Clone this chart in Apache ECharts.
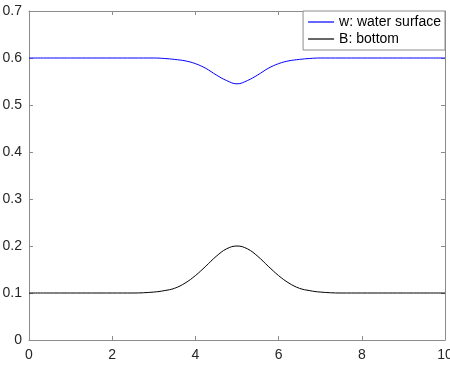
<!DOCTYPE html>
<html>
<head>
<meta charset="utf-8">
<script src="https://cdn.jsdelivr.net/npm/echarts@6/dist/echarts.min.js"></script>
<style>html,body{margin:0;padding:0;background:#fff}#c{width:450px;height:372px}</style>
</head>
<body>
<div id="c"></div>
<script>
const xs = [0, 1, 2, 2.5, 3, 3.25, 3.5, 3.75, 4, 4.25, 4.5, 4.75, 5, 5.25, 5.5, 5.75, 6, 6.25, 6.5, 6.75, 7, 7.5, 8, 9, 10];
const waterSurface = [0.6, 0.6, 0.6, 0.6, 0.6, 0.599, 0.597, 0.594, 0.588, 0.578, 0.564, 0.552, 0.545, 0.552, 0.564, 0.578, 0.588, 0.594, 0.597, 0.599, 0.6, 0.6, 0.6, 0.6, 0.6];
const bottom = [0.1, 0.1, 0.1, 0.1, 0.102, 0.105, 0.11, 0.121, 0.137, 0.157, 0.178, 0.194, 0.2, 0.194, 0.178, 0.157, 0.137, 0.121, 0.11, 0.105, 0.102, 0.1, 0.1, 0.1, 0.1];
const xTicks = [0, 2, 4, 6, 8, 10];
const yTicks = [0, 0.1, 0.2, 0.3, 0.4, 0.5, 0.6, 0.7];
const seriesNames = ['w: water surface', 'B: bottom'];
const seriesColors = ['#0000ff', '#000000'];

const font = 'Liberation Sans, Arial, Helvetica, sans-serif';
const frame = {show: true, onZero: false, lineStyle: {color: '#8c8c8c', width: 1}};
const tickIn = {show: true, inside: true, length: 4, lineStyle: {color: '#8c8c8c'}};
const chart = echarts.init(document.getElementById('c'), null, {renderer: 'canvas'});
chart.setOption({
  animation: false,
  backgroundColor: '#fff',
  grid: {left: 29, right: 5, top: 11, bottom: 32, containLabel: false, outerBoundsMode: 'none'},
  xAxis: [
    {type: 'value', position: 'bottom', min: 0, max: 10, interval: 2, axisLine: frame, axisTick: tickIn,
     splitLine: {show: false},
     axisLabel: {color: '#262626', fontSize: 14, fontFamily: font, margin: 8,
       formatter: v => xTicks.includes(v) ? String(v) : ''}},
    {type: 'value', position: 'top', min: 0, max: 10, interval: 2, axisLine: frame, axisTick: tickIn,
     splitLine: {show: false}, axisLabel: {show: false}}
  ],
  yAxis: [
    {type: 'value', position: 'left', min: 0, max: 0.7, interval: 0.1, axisLine: frame, axisTick: tickIn,
     splitLine: {show: false},
     axisLabel: {color: '#262626', fontSize: 14, fontFamily: font, margin: 7,
       formatter: v => { const t = yTicks.find(y => Math.abs(y - v) < 1e-9); return t === undefined ? '' : String(Math.round(t * 10) / 10); }}},
    {type: 'value', position: 'right', min: 0, max: 0.7, interval: 0.1, axisLine: frame, axisTick: tickIn,
     splitLine: {show: false}, axisLabel: {show: false}}
  ],
  legend: {
    show: true, right: 5, top: 11, orient: 'vertical', itemGap: 3,
    backgroundColor: '#fff', borderColor: '#8c8c8c', borderWidth: 1, borderRadius: 0,
    padding: [4, 4, 4, 5], itemWidth: 26, itemHeight: 1.2, icon: 'rect',
    textStyle: {color: '#000', fontSize: 14, fontFamily: font},
    data: seriesNames.map((n, i) => ({name: n, icon: 'rect', itemStyle: {color: seriesColors[i], borderWidth: 0}}))
  },
  series: [
    {name: seriesNames[0], type: 'line', data: xs.map((x, i) => [x, waterSurface[i]]),
     smooth: 0.4, symbol: 'none', lineStyle: {color: seriesColors[0], width: 1}, itemStyle: {color: seriesColors[0]}},
    {name: seriesNames[1], type: 'line', data: xs.map((x, i) => [x, bottom[i]]),
     smooth: 0.4, symbol: 'none', lineStyle: {color: seriesColors[1], width: 1}, itemStyle: {color: seriesColors[1]}}
  ]
});
</script>
</body>
</html>
